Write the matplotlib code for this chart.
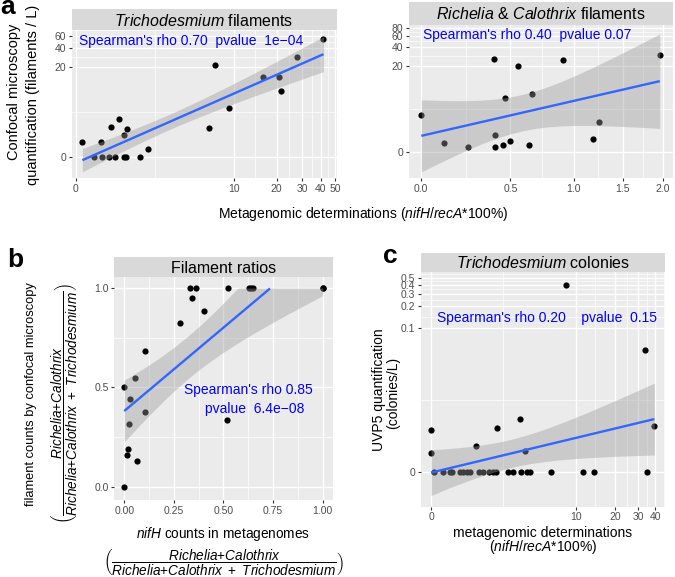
import numpy as np
import matplotlib
matplotlib.use('Agg')
import matplotlib.pyplot as plt

plt.rcParams['font.family'] = ['Liberation Sans', 'DejaVu Sans']
plt.rcParams['mathtext.fontset'] = 'custom'
plt.rcParams['mathtext.rm'] = 'Liberation Sans'
plt.rcParams['mathtext.it'] = 'Liberation Sans:italic'
plt.rcParams['mathtext.bf'] = 'Liberation Sans:bold'

# ---------------- data ----------------
tricho_meta = [0.11, 0.32, 0.47, 0.50, 0.66, 0.71, 0.82, 0.93, 1.07, 1.09, 1.15, 1.19,
               1.66, 2.0, 6.49, 7.24, 9.29, 16.2, 20.8, 21.6, 27.4, 41.7]
tricho_conf = [0.67, 0.0, 0.67, 0.0, 0.0, 1.76, 0.0, 2.67, 1.10, 0.0, 0.0, 1.58,
               0.0, 0.315, 1.70, 21.5, 4.29, 13.9, 14.1, 8.47, 29.3, 53.7]

rich_meta = [0.0, 0.107, 0.236, 0.391, 0.396, 0.40, 0.449, 0.46, 0.50, 0.553, 0.633,
             0.653, 0.901, 1.184, 1.248, 1.957]
rich_conf = [2.65, 0.348, 0.194, 25.7, 0.83, 0.194, 0.269, 5.67, 0.463, 19.5, 0.282,
             6.77, 24.7, 0.57, 1.90, 29.3]

ratio_meta = [0.0, 0.0, 0.03, 0.022, 0.0185, 0.015, 0.064, 0.052, 0.106, 0.107, 0.282,
              0.33, 0.359, 0.342, 0.403, 0.522, 0.626, 0.637, 0.651, 1.0, 1.0, 0.517]
ratio_conf = [0.0, 0.5, 0.443, 0.316, 0.188, 0.161, 0.13, 0.546, 0.375, 0.684, 0.822,
              1.0, 1.0, 0.948, 0.882, 1.0, 1.0, 1.0, 1.0, 1.0, 1.0, 0.335]

col_meta = [0.056, 0.214, 0.370, 0.423, 0.617, 0.708, 0.807, 0.908, 1.226, 1.378, 1.627,
            1.779, 1.935, 2.598, 2.909, 3.442, 3.930, 4.155, 6.265, 11.47, 13.96, 34.97,
            0.0, 0.0, 1.11, 2.0, 3.37, 3.77, 8.31, 33.6, 39.4]
col_uvp = [0.0] * 22 + [0.0028, 0.0008, 0.00128, 0.0030, 0.0045, 0.00096, 0.392, 0.0484, 0.00337]

stat_a1 = "Spearman's rho 0.70  pvalue  1e\u221204"
stat_a2 = "Spearman's rho 0.40  pvalue 0.07"
stat_b1 = "Spearman's rho 0.85"
stat_b2 = "pvalue  6.4e\u221208"
stat_c = "Spearman's rho 0.20    pvalue  0.15"

# ---------------- helpers ----------------
W, H = 675, 577
fig = plt.figure(figsize=(W / 100, H / 100), dpi=100)

BG = '#EBEBEB'
STRIP = '#D9D9D9'
LINE = '#3366FF'
TXT = '#0000FF'


def f_l1(x):
    x = np.asarray(x, float)
    return np.log10(np.clip(x + 1.0, 1e-12, None))


def i_l1(t):
    return 10.0 ** np.asarray(t, float) - 1.0


def f_l3(y):
    y = np.asarray(y, float)
    return np.log10(np.clip(1000.0 * y + 1.0, 1e-12, None))


def i_l3(t):
    return (10.0 ** np.asarray(t, float) - 1.0) / 1000.0


def f_id(x):
    return np.asarray(x, float)


def rect(x0, y0, x1, y1):
    return [x0 / W, 1 - y1 / H, (x1 - x0) / W, (y1 - y0) / H]


def minor_breaks(majors, fwd, inv, lims):
    t = list(fwd(np.array(majors, float)))
    tl = fwd(np.array(lims, float))
    ext = list(t)
    if tl[0] < t[0]:
        ext = [t[0] - (t[1] - t[0])] + ext
    if tl[1] > t[-1]:
        ext = ext + [t[-1] + (t[-1] - t[-2])]
    mids = [(ext[i] + ext[i + 1]) / 2 for i in range(len(ext) - 1)]
    mids = [m for m in mids if tl[0] <= m <= tl[1]]
    return inv(np.array(mids))


def lm_band(x, y, fx, ix, fy, iy, n=80):
    xt = fx(np.array(x, float))
    yt = fy(np.array(y, float))
    b, a = np.polyfit(xt, yt, 1)
    g = np.linspace(xt.min(), xt.max(), n)
    fit = a + b * g
    res = yt - (a + b * xt)
    df = len(xt) - 2
    s = np.sqrt(np.sum(res ** 2) / df)
    sxx = np.sum((xt - xt.mean()) ** 2)
    se = s * np.sqrt(1.0 / len(xt) + (g - xt.mean()) ** 2 / sxx)
    tq = 1.96 + 2.37 / df + 2.8 / df ** 2
    return ix(g), iy(fit), iy(fit - tq * se), iy(fit + tq * se)


def panel(pr, sr, title, x, y, fx, ix, fy, iy, xlim, ylim, xt, xtl, yt, ytl,
          clip_top=None):
    ax = fig.add_axes(rect(*pr))
    ax.set_facecolor(BG)
    if fx is not f_id:
        ax.set_xscale('function', functions=(fx, ix))
    if fy is not f_id:
        ax.set_yscale('function', functions=(fy, iy))
    ax.set_xlim(*xlim)
    ax.set_ylim(*ylim)
    ax.set_xticks(xt)
    ax.set_xticklabels(xtl)
    ax.set_yticks(yt)
    ax.set_yticklabels(ytl)
    ax.set_xticks(minor_breaks(xt, fx, ix, xlim), minor=True)
    ax.set_yticks(minor_breaks(yt, fy, iy, ylim), minor=True)
    ax.grid(which='major', color='white', lw=1.0, zorder=0)
    ax.grid(which='minor', color='white', lw=0.5, zorder=0)
    ax.set_axisbelow(True)
    for sp in ax.spines.values():
        sp.set_visible(False)
    ax.tick_params(which='major', length=2.5, width=0.8, color='#333333',
                   labelsize=7.5, labelcolor='#4D4D4D', pad=1.5)
    ax.tick_params(which='minor', length=0)
    ax.scatter(x, y, s=20, color='black', zorder=2, linewidths=0)
    gx, fit, lo, hi = lm_band(x, y, fx, ix, fy, iy)
    if clip_top is not None:
        hi = np.minimum(hi, clip_top)
        fit = np.where(fit <= clip_top, fit, np.nan)
    ax.fill_between(gx, lo, hi, color='#999999', alpha=0.4, lw=0, zorder=3)
    ax.plot(gx, fit, color=LINE, lw=1.7, zorder=4, solid_capstyle='butt')
    sax = fig.add_axes(rect(*sr))
    sax.set_facecolor(STRIP)
    sax.set_xticks([])
    sax.set_yticks([])
    for sp in sax.spines.values():
        sp.set_visible(False)
    sax.text(0.5, 0.45, title, ha='center', va='center', fontsize=11.5,
             transform=sax.transAxes)
    return ax


def ftext(x, y, s, **kw):
    fig.text(x / W, 1 - y / H, s, **kw)


# ---------------- panel a (left) ----------------
panel((71.5, 30, 336.5, 178.3), (71.5, 9, 336.5, 30),
      r'$\it{Trichodesmium}$ filaments',
      tricho_meta, tricho_conf, f_l1, i_l1, f_l1, i_l1,
      (-0.0588, 51.0), (-0.5125, 73.5),
      [0, 10, 20, 30, 40, 50], ['0', '10', '20', '30', '40', '50'],
      [0, 20, 40, 60], ['0', '20', '40', '60'])
ftext(79, 45.5, stat_a1, color=TXT, fontsize=10, va='baseline', ha='left')

# ---------------- panel a (right) ----------------
panel((409, 24.5, 673, 178), (409, 1.7, 673, 24.5),
      r'$\it{Richelia}$ & $\it{Calothrix}$ filaments',
      rich_meta, rich_conf, f_l1, i_l1, f_l1, i_l1,
      (-0.0544, 2.14), (-0.607, 89.2),
      [0, 0.5, 1.0, 1.5, 2.0], ['0.0', '0.5', '1.0', '1.5', '2.0'],
      [0, 20, 40, 60, 80], ['0', '20', '40', '60', '80'])
ftext(423.3, 39.3, stat_a2, color=TXT, fontsize=10, va='baseline', ha='left')

ftext(13.7, 92, 'Confocal microscopy', rotation=90, ha='center', va='center', fontsize=10.5)
ftext(33.5, 95, 'quantification (filaments / L)', rotation=90, ha='center', va='center',
      fontsize=10.5)
ftext(363, 214, r'Metagenomic determinations ($\it{nifH/recA}$*100%)', ha='center',
      va='center', fontsize=10)

# ---------------- panel b ----------------
panel((114.3, 277.5, 332.7, 500), (114.3, 256.7, 332.7, 277.5),
      'Filament ratios',
      ratio_meta, ratio_conf, f_id, f_id, f_id, f_id,
      (-0.05, 1.05), (-0.067, 1.053),
      [0, 0.25, 0.5, 0.75, 1.0], ['0.00', '0.25', '0.50', '0.75', '1.00'],
      [0, 0.5, 1.0], ['0.0', '0.5', '1.0'], clip_top=1.0)
ftext(184.3, 394, stat_b1, color=TXT, fontsize=10, va='baseline', ha='left')
ftext(205, 413.3, stat_b2, color=TXT, fontsize=10, va='baseline', ha='left')

frac = (r'$\left(\dfrac{\it{Richelia}{+}\it{Calothrix}}'
        r'{\it{Richelia}{+}\it{Calothrix}\ +\ \it{Trichodesmium}}\right)$')
ftext(31, 394, 'filament counts by confocal microscopy', rotation=90, ha='center',
      va='center', fontsize=9.3)
ftext(65, 403, frac, rotation=90, ha='center', va='center', fontsize=9.8)
ftext(223, 534, r'$\it{nifH}$ counts in metagenomes', ha='center', va='center', fontsize=9.8)
ftext(224, 562.5, frac, ha='center', va='center', fontsize=9.8)

# ---------------- panel c ----------------
panel((421, 271.7, 665, 506.7), (421, 252.7, 665, 271.7),
      r'$\it{Trichodesmium}$ colonies',
      col_meta, col_uvp, f_l1, i_l1, f_l3, i_l3,
      (-0.153, 47.2), (-0.000674, 0.607),
      [0, 10, 20, 30, 40], ['0', '10', '20', '30', '40'],
      [0, 0.1, 0.2, 0.3, 0.4, 0.5], ['0', '0.1', '0.2', '0.3', '0.4', '0.5'])
ftext(436.7, 322.3, stat_c, color=TXT, fontsize=10, va='baseline', ha='left')
ftext(378.5, 390, 'UVP5 quantification', rotation=90, ha='center', va='center', fontsize=10)
ftext(393.5, 393, '(colonies/L)', rotation=90, ha='center', va='center', fontsize=10)
ftext(543, 533, 'metagenomic determinations', ha='center', va='center', fontsize=10)
ftext(543.5, 547.5, r'($\it{nifH/recA}$*100%)', ha='center', va='center', fontsize=10)

# ---------------- panel letters ----------------
ftext(0, 14.5, 'a', fontsize=19, fontweight='bold', va='baseline', ha='left')
ftext(7, 267, 'b', fontsize=19, fontweight='bold', va='baseline', ha='left')
ftext(383, 263.3, 'c', fontsize=19, fontweight='bold', va='baseline', ha='left')

fig.savefig('out.png', dpi=100)
